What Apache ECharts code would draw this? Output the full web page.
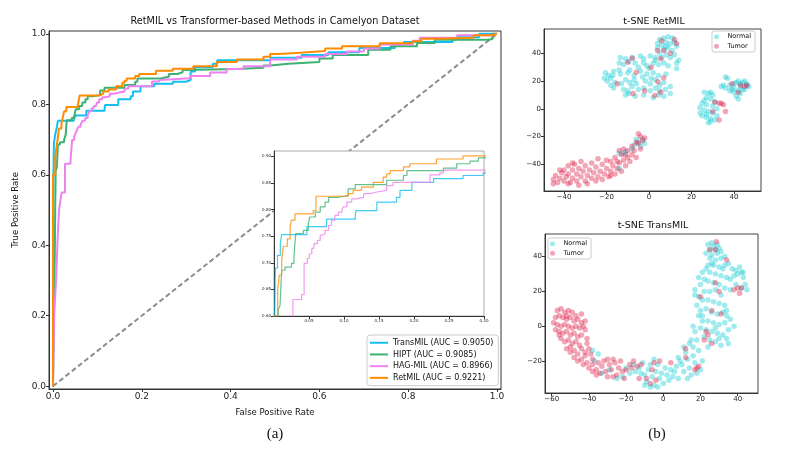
<!DOCTYPE html>
<html>
<head>
<meta charset="utf-8">
<script src="https://cdn.jsdelivr.net/npm/echarts@6/dist/echarts.min.js"></script>
<style>
  html, body { margin: 0; padding: 0; background: #fff; }
  #main { width: 789px; height: 451px; }
</style>
</head>
<body>
<div id="main"></div>
<script>
// ROC curves, [fpr, tpr] at the top of each vertical step
const transmil = [[0,0],[0,0.5],[0.002,0.69],[0.005,0.714],[0.009,0.737],[0.011,0.753],[0.047,0.768],[0.075,0.782],[0.116,0.786],[0.117,0.798],[0.147,0.814],[0.175,0.823],[0.18,0.836],[0.197,0.851],[0.228,0.858],[0.27,0.864],[0.299,0.869],[0.31,0.893],[0.32,0.905],[0.36,0.915],[0.37,0.925],[0.49,0.932],[0.56,0.94],[0.62,0.948],[0.69,0.96],[0.77,0.97],[0.79,0.977],[0.9,0.984],[0.91,0.99],[0.96,1.0],[1.0,1.0]];
const hipt = [[0,0],[0.004,0.37],[0.005,0.5],[0.006,0.611],[0.0086,0.62],[0.011,0.686],[0.0157,0.692],[0.025,0.699],[0.0286,0.714],[0.031,0.755],[0.042,0.761],[0.049,0.773],[0.051,0.786],[0.059,0.795],[0.066,0.805],[0.073,0.814],[0.078,0.823],[0.09,0.826],[0.106,0.839],[0.116,0.847],[0.161,0.855],[0.185,0.864],[0.19,0.873],[0.242,0.878],[0.261,0.886],[0.28,0.891],[0.292,0.897],[0.297,0.9],[0.414,0.904],[0.474,0.91],[0.489,0.915],[0.53,0.92],[0.6,0.93],[0.63,0.94],[0.71,0.955],[0.76,0.965],[0.82,0.974],[0.86,0.983],[0.98,0.985],[0.99,1.0],[1.0,1.0]];
const hagmil = [[0,0],[0.0026,0.2],[0.007,0.303],[0.0105,0.42],[0.0135,0.5],[0.017,0.53],[0.0195,0.55],[0.027,0.631],[0.0395,0.64],[0.043,0.699],[0.0476,0.708],[0.0505,0.717],[0.054,0.727],[0.057,0.736],[0.062,0.742],[0.066,0.752],[0.0695,0.755],[0.073,0.761],[0.078,0.77],[0.082,0.78],[0.087,0.789],[0.092,0.795],[0.097,0.8],[0.099,0.805],[0.104,0.814],[0.111,0.82],[0.118,0.823],[0.128,0.83],[0.137,0.833],[0.147,0.836],[0.161,0.845],[0.17,0.851],[0.223,0.865],[0.237,0.869],[0.242,0.874],[0.309,0.88],[0.354,0.89],[0.391,0.9],[0.429,0.908],[0.489,0.927],[0.549,0.935],[0.613,0.943],[0.662,0.95],[0.7,0.958],[0.736,0.97],[0.81,0.98],[0.826,0.989],[0.91,0.996],[0.99,1.0],[1.0,1.0]];
const retmil = [[0,0],[0,0.6],[0.0052,0.649],[0.0076,0.677],[0.011,0.705],[0.0133,0.731],[0.019,0.745],[0.023,0.768],[0.025,0.78],[0.03,0.792],[0.056,0.798],[0.06,0.825],[0.106,0.83],[0.113,0.836],[0.125,0.842],[0.142,0.851],[0.156,0.861],[0.161,0.867],[0.166,0.873],[0.185,0.88],[0.194,0.886],[0.232,0.895],[0.27,0.901],[0.316,0.908],[0.369,0.92],[0.414,0.927],[0.474,0.935],[0.489,0.943],[0.508,0.946],[0.556,0.951],[0.613,0.958],[0.651,0.965],[0.736,0.973],[0.81,0.979],[0.83,0.986],[0.872,0.989],[0.947,0.996],[0.99,1.0],[1.0,1.0]];
const chance = [[0,0],[1,1]];
const rocNames = ['TransMIL (AUC = 0.9050)', 'HIPT (AUC = 0.9085)', 'HAG-MIL (AUC = 0.8966)', 'RetMIL (AUC = 0.9221)'];
const rocColors = ['#13bff0', '#3cb371', '#ee82ee', '#ff8c00'];

const mainTicks = [0, 0.2, 0.4, 0.6, 0.8, 1.0];
const insetXTicks = [0.05, 0.10, 0.15, 0.20, 0.25, 0.30];
const insetYTicks = [0.60, 0.65, 0.70, 0.75, 0.80, 0.85, 0.90];
const tsneTicks = [-60, -40, -20, 0, 20, 40];

// t-SNE RetMIL
const retNormal = [[5,50],[7,51],[9,52],[11,51],[12,48],[8,48],[6,46],[10,47],[13,45],[4,44],[7,43],[9,44],[11,42],[5,40],[8,39],[14,35],[13,33],[3,35],[6,37],[10,37],[12,39],[4,47],[8,45],
  [-13.5,37],[-11,36],[-8,37],[-4,38],[-2.5,36],[0.6,38],[3,37],
  [-14,33],[-12,32],[-9.5,34],[-6.5,33],[-2.5,33],[-1,31],[2,33],[4.5,32],[7,33],[9,31],[13,29],
  [-20.5,26],[-19,24],[-16.6,27],[-13.5,25],[-10,26],[-9,28],[-7,24],[-4,27],[-1,25],[2,26],[4.5,24],
  [-19.7,20],[-18,22],[-16,19],[-11,21],[-9,19],[-7,21],[-1.7,20],[0.6,18],[3,21],[5,17],[7,19],
  [-16.6,15],[-12,14],[-10,13],[-8,16],[-5,14],[-2.5,15],[0.6,13],[3,15],[5,13],[7.7,14],
  [-11,10],[-9.5,11],[-6.5,9],[-2.5,10],[2,8],[4.5,10],[7,9],[10,11],
  [-21,22],[-18,17],[-14,28],[-5,30],[0,29],[-3,23],[8,25],[10,16],[-13,18],[-6,18],[1,22],[-17,24],
  [26,12],[28,11],[30,10],[27,8],[29,7],[25,4],[27,3],[30,2],[26,-1],[28,-2],[30,-3],[25,-5],[27,-6],[29,-7],[31,-8],[28,-10],[24,-3],[32,0],[26,6],[31,5],[29,-9],[27,-4],[29,12],[24,1],[32,-5],
  [36,23],[37,22],[34,16],[36,15],[38,17],[39,14],[40,18],[41,19],[42,20],[43,18],[44,19],[45,20],[46,17],[47,16],[42,13],[43,11],[41,9],[42,7],[44,14],[45,14],[38,13],[40,12],[43,16],[46,18],[35,17],[40,15],
  [-6,-22],[-5,-24],[-3,-22],[-2,-25],[-4,-27],[-7,-26],[-8,-29],[-12,-32],[-14,-32],[-11,-31],[-14,-43]];
const retTumor = [[-15,18],[-10,33.6],[-7.8,36.5],[-6,26.4],[-7.5,11],[1,30],[5.5,36],[5.5,12],[-2,13],[2.7,9.6],[4.2,19.5],[6.9,22.4],
  [6,49],[12,50],[13,47],[7,42],[10,40],[4,42],
  [31,5],[33,4],[35,3],[30,-2],[33,-8],[36,-2],[34,4],
  [39,18],[43,17],[45,16],[42,12],[46,17],
  [-45,-51],[-44,-48],[-43,-53],[-42,-50],[-41,-46],[-40,-52],[-40,-44],[-39,-49],[-38,-41],[-38,-47],[-37,-53],[-36,-50],[-36,-44],[-35,-40],[-34,-47],[-34,-52],[-33,-43],[-32,-49],[-31,-45],[-30,-52],[-30,-41],[-29,-48],[-28,-44],[-27,-50],[-26,-46],[-25,-52],[-25,-42],[-24,-49],[-23,-45],[-22,-40],[-22,-51],[-21,-47],[-20,-43],[-19,-49],[-18,-38],[-18,-45],[-17,-41],[-16,-47],[-16,-35],[-15,-43],[-14,-39],[-13,-45],[-13,-33],[-12,-37],[-11,-41],[-10,-35],[-10,-30],[-9,-38],[-8,-33],[-8,-27],[-7,-30],[-6,-35],[-5,-25],[-4,-29],[-4,-20],[-3,-23],[-2,-21],[-5,-18],[-12,-29],[-20,-37],[-27,-39],[-32,-38],[-36,-39],[-42,-44],[-45,-54],[-38,-54],[-29,-54],[-33,-55],[-24,-36],[-15,-38],[-18,-48],[-11,-33],[-6,-24],[-14,-30]];

// t-SNE TransMIL
const transNormal = [[-35,-16],[-38,-14],[-33,-27],[-25,-30],[-22,-29],[-29,-25],[-37,-20],
  [-20,-24],[-18,-27],[-16,-22],[-15,-26],[-13,-24],[-11,-21],[-10,-28],[-9,-32],[-8,-25],[-7,-22],[-6,-29],[-5,-34],[-4,-26],[-3,-22],[-2,-30],[-1,-27],[0,-33],[1,-24],[2,-28],[3,-31],[4,-25],[5,-29],[6,-26],[7,-23],[8,-30],[9,-20],[10,-22],[11,-26],[12,-15],[13,-19],[14,-24],[15,-28],[16,-17],[17,-21],[18,-27],[19,-14],[14,-10],[11,-12],[15,-8],[-10,-34],[-7,-35],[-3,-35],[-12,-27],[-5,-19],[8,-18],[16,-12],[20,-25],[21,-20],[13,-30],
  [24,47],[26,48],[27,46],[29,47],[25,44],[28,44],[30,45],[23,42],[26,41],[29,42],[31,43],[25,39],[28,38],[31,39],[33,40],[24,35],[27,35],[30,34],[33,35],[35,36],[37,33],[39,32],[41,34],[40,30],[42,31],[38,29],[43,28],[44,24],[45,21],[42,22],[39,24],[36,27],[34,28],[31,29],[28,30],[25,31],[23,33],[21,31],[19,28],[22,27],[24,26],[27,25],[30,24],[33,22],[36,21],[20,24],[22,20],[25,20],[28,21],[31,18],[17,18],[19,17],[21,15],[24,15],[27,14],[30,13],[33,12],[18,12],[20,9],[23,10],[26,8],[29,7],[32,8],[34,6],[19,6],[21,3],[24,3],[27,2],[30,1],[33,2],[20,-1],[23,-2],[26,-3],[29,-4],[32,-5],[34,-7],[35,-10],[22,-6],[25,-8],[28,-9],[31,-11],[17,-3],[18,-8],[24,-12],[16,0],[35,-2],[38,0],[36,4],[34,9],[30,-7],[28,-1],[21,6],[17,21],[43,31],[32,33],[26,36]];
const transTumor = [[-57,9],[-55,10],[-53,8],[-51,9],[-49,8],[-58,5],[-56,6],[-54,5],[-52,4],[-50,5],[-48,3],[-46,4],[-44,2],[-59,2],[-57,1],[-55,0],[-53,1],[-51,0],[-49,-1],[-47,0],[-45,-1],[-43,0],[-42,3],[-58,-2],[-56,-3],[-54,-4],[-52,-3],[-50,-5],[-48,-4],[-46,-6],[-44,-5],[-42,-2],[-41,-7],[-55,-7],[-53,-9],[-51,-8],[-49,-10],[-47,-9],[-45,-11],[-52,-13],[-50,-15],[-48,-14],[-46,-16],[-44,-13],[-42,-15],[-40,-13],[-48,-18],[-46,-20],[-44,-19],[-42,-17],[-50,-12],[-56,-5],[-52,6],[-47,6],[-44,7],[-41,-10],[-39,-16],[-38,-19],[-43,-22],[-41,-21],
  [-40,-24],[-38,-22],[-36,-25],[-34,-27],[-35,-21],[-33,-23],[-31,-26],[-30,-29],[-32,-20],[-29,-22],[-28,-25],[-27,-19],[-26,-21],[-25,-28],[-24,-24],[-23,-20],[-22,-26],[-21,-30],[-20,-25],[-18,-22],[-17,-24],[-36,-28],[-38,-26],[-27,-29],[-30,-19],[-16,-20],[-14,-23],[-12,-22],[-6,-25],[-5,-21],[-9,-30],[-7,-33],[4,-21],[-2,-20],[12,-13],[12,-18],[17,-25],[19,-23],[18,-24],[-13,-30],[-4,-31],
  [28.5,48.5],[25,44],[28,44],[34,38],[28,25],[30,20],[40,22],[38,21],[42,22],[41,19],[26,9],[31,7],[23,-3],[22,-8],[26,-10],[20,17],[24,-5]];

const FONT = 'DejaVu Sans';
const minusFmt = v => (v < 0 ? '\u2212' + Math.abs(v) : String(v));

function valAxis(grid, min, max, ticks, fmt, size, extra) {
    return Object.assign({
        type: 'value', gridIndex: grid, min: min, max: max,
        axisLine: { show: true, onZero: false, lineStyle: { color: '#333', width: 1 } },
        axisTick: { show: true, customValues: ticks, length: 3, lineStyle: { color: '#333' } },
        axisLabel: { customValues: ticks, formatter: fmt, fontSize: size, color: '#222', fontFamily: FONT, margin: 3 },
        splitLine: { show: false }
    }, extra || {});
}

function rocSeries(i, data, xi, yi, inset) {
    return {
        name: rocNames[i], type: 'line', step: 'end', data: data,
        xAxisIndex: xi, yAxisIndex: yi, symbol: 'none', animation: false,
        z: inset ? 11 : 3,
        lineStyle: { color: rocColors[i], width: inset ? 1.2 : 2, opacity: inset ? 0.8 : 1 },
        itemStyle: { color: rocColors[i] }
    };
}

const rocAll = [transmil, hipt, hagmil, retmil];
const series = [];
series.push({
    type: 'line', data: chance, xAxisIndex: 0, yAxisIndex: 0, symbol: 'none', z: 2,
    lineStyle: { color: '#8c8c8c', width: 2, type: [5, 3] }, animation: false
});
rocAll.forEach((d, i) => series.push(rocSeries(i, d, 0, 0, false)));
rocAll.forEach((d, i) => series.push(rocSeries(i, d, 1, 1, true)));

const NORMAL = 'rgba(20,205,212,0.5)';
const TUMOR = 'rgba(220,30,70,0.5)';
[[retNormal, retTumor, 2], [transNormal, transTumor, 3]].forEach(p => {
    series.push({ name: 'Normal', type: 'scatter', data: p[0], xAxisIndex: p[2], yAxisIndex: p[2], symbolSize: 5.5, itemStyle: { color: NORMAL }, animation: false });
    series.push({ name: 'Tumor', type: 'scatter', data: p[1], xAxisIndex: p[2], yAxisIndex: p[2], symbolSize: 5.5, itemStyle: { color: TUMOR }, animation: false });
});

const option = {
    backgroundColor: '#fff',
    textStyle: { fontFamily: FONT },
    title: [
        { text: 'RetMIL vs Transformer-based Methods in Camelyon Dataset', left: 275, top: 16, textAlign: 'center', padding: 0,
          textStyle: { fontSize: 9.7, fontWeight: 'normal', color: '#111', fontFamily: FONT } },
        { text: 't-SNE RetMIL', left: 654, top: 17, textAlign: 'center', padding: 0,
          textStyle: { fontSize: 9.5, fontWeight: 'normal', color: '#111', fontFamily: FONT } },
        { text: 't-SNE TransMIL', left: 653, top: 221, textAlign: 'center', padding: 0,
          textStyle: { fontSize: 9.5, fontWeight: 'normal', color: '#111', fontFamily: FONT } },
        { text: '(a)', left: 275, top: 427, textAlign: 'center', padding: 0,
          textStyle: { fontSize: 15, fontWeight: 'normal', color: '#111', fontFamily: 'Liberation Serif' } },
        { text: '(b)', left: 657, top: 427, textAlign: 'center', padding: 0,
          textStyle: { fontSize: 15, fontWeight: 'normal', color: '#111', fontFamily: 'Liberation Serif' } }
    ],
    legend: [
        {
            data: rocNames, orient: 'vertical', left: 367, top: 335, z: 20,
            icon: 'rect', itemWidth: 18, itemHeight: 2, itemGap: 2.2,
            padding: [3, 5, 3, 3], borderColor: '#ccc', borderWidth: 1, borderRadius: 3, backgroundColor: '#fff',
            textStyle: { fontSize: 8, lineHeight: 9.5, color: '#111', fontFamily: FONT }
        },
        {
            data: ['Normal', 'Tumor'], orient: 'vertical', left: 712, top: 31,
            icon: 'circle', itemWidth: 12, itemHeight: 5, itemGap: 2,
            padding: [2, 4, 2, 2], borderColor: '#ccc', borderWidth: 1, borderRadius: 2,
            textStyle: { fontSize: 6.5, lineHeight: 7.5, color: '#111', fontFamily: FONT }
        },
        {
            data: ['Normal', 'Tumor'], orient: 'vertical', left: 548, top: 238,
            icon: 'circle', itemWidth: 12, itemHeight: 5, itemGap: 2,
            padding: [2, 4, 2, 2], borderColor: '#ccc', borderWidth: 1, borderRadius: 2,
            textStyle: { fontSize: 6.5, lineHeight: 7.5, color: '#111', fontFamily: FONT }
        }
    ],
    grid: [
        { left: 49, top: 31, width: 452, height: 358, show: true, borderColor: '#333', borderWidth: 1 },
        { left: 274, top: 151, width: 210, height: 165, show: true, borderColor: '#aaa', borderWidth: 1, backgroundColor: '#fff', z: 10 },
        { left: 544, top: 29, width: 217, height: 162, show: true, borderColor: '#444', borderWidth: 1 },
        { left: 545, top: 234, width: 213, height: 159, show: true, borderColor: '#444', borderWidth: 1 }
    ],
    xAxis: [
        valAxis(0, -0.009, 1.009, mainTicks, v => v.toFixed(1), 9,
            { name: 'False Positive Rate', nameLocation: 'middle', nameGap: 19, nameTextStyle: { fontSize: 8.5, color: '#111', fontFamily: FONT } }),
        valAxis(1, 0, 0.3, insetXTicks, v => v.toFixed(2), 4, { z: 11 }),
        valAxis(2, -49.4, 52.7, tsneTicks, minusFmt, 7),
        valAxis(3, -63.6, 50.9, tsneTicks, minusFmt, 7)
    ],
    yAxis: [
        valAxis(0, -0.008, 1.008, mainTicks, v => v.toFixed(1), 9,
            { name: 'True Positive Rate', nameLocation: 'middle', nameGap: 24, nameTextStyle: { fontSize: 8.5, color: '#111', fontFamily: FONT } }),
        valAxis(1, 0.6, 0.91, insetYTicks, v => v.toFixed(2), 4, { z: 11 }),
        valAxis(2, -59.2, 57.5, tsneTicks, minusFmt, 7),
        valAxis(3, -38.4, 53, tsneTicks, minusFmt, 7)
    ],
    series: series
};

var myChart = echarts.init(document.getElementById('main'));
myChart.setOption(option);
</script>
</body>
</html>
